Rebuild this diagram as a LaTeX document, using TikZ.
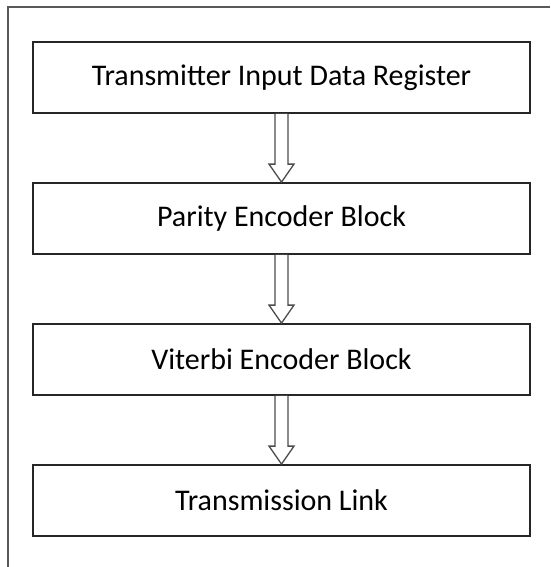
\documentclass[tikz,border=0pt]{standalone}
\usepackage{fontspec}
\setmainfont{Carlito}
\usetikzlibrary{calc}
\begin{document}
\begin{tikzpicture}[x=1pt,y=-1pt,
  stagebox/.style={draw=black!85,line width=1.8pt,minimum width=497pt,minimum height=71pt,
    inner sep=0pt,font=\fontsize{30}{34}\selectfont},
  hollowarrow/.style={draw=black!70,line width=1.3pt,line join=miter,fill=white},
  frameline/.style={draw=black!65,line width=2pt}]
\useasboundingbox (0,0) rectangle (550,567);
% outer frame (only top and left edges are visible)
\coordinate (fTL) at (8,7);
\coordinate (fTR) at (550,7);
\coordinate (fBL) at (8,567);
\draw[frameline] (fTR) -- (fTL) -- (fBL);
% processing stages
\node[stagebox] (b1) at (281.5,77.5) {Transmitter Input Data Register};
\node[stagebox] (b2) at (281.5,218.5) {Parity Encoder Block};
\node[stagebox] (b3) at (281.5,359.5) {Viterbi Encoder Block};
\node[stagebox] (b4) at (281.5,500.5) {Transmission Link};
% hollow block arrows between stages
\foreach \a/\b in {b1/b2,b2/b3,b3/b4}{
  \draw[hollowarrow]
    ($(\a.south)+(-6.5,0)$) -- ($(\b.north)+(-6.5,-18)$) -- ($(\b.north)+(-12.5,-18)$)
    -- (\b.north) -- ($(\b.north)+(12.5,-18)$) -- ($(\b.north)+(6.5,-18)$)
    -- ($(\a.south)+(6.5,0)$);
}
\end{tikzpicture}
\end{document}
